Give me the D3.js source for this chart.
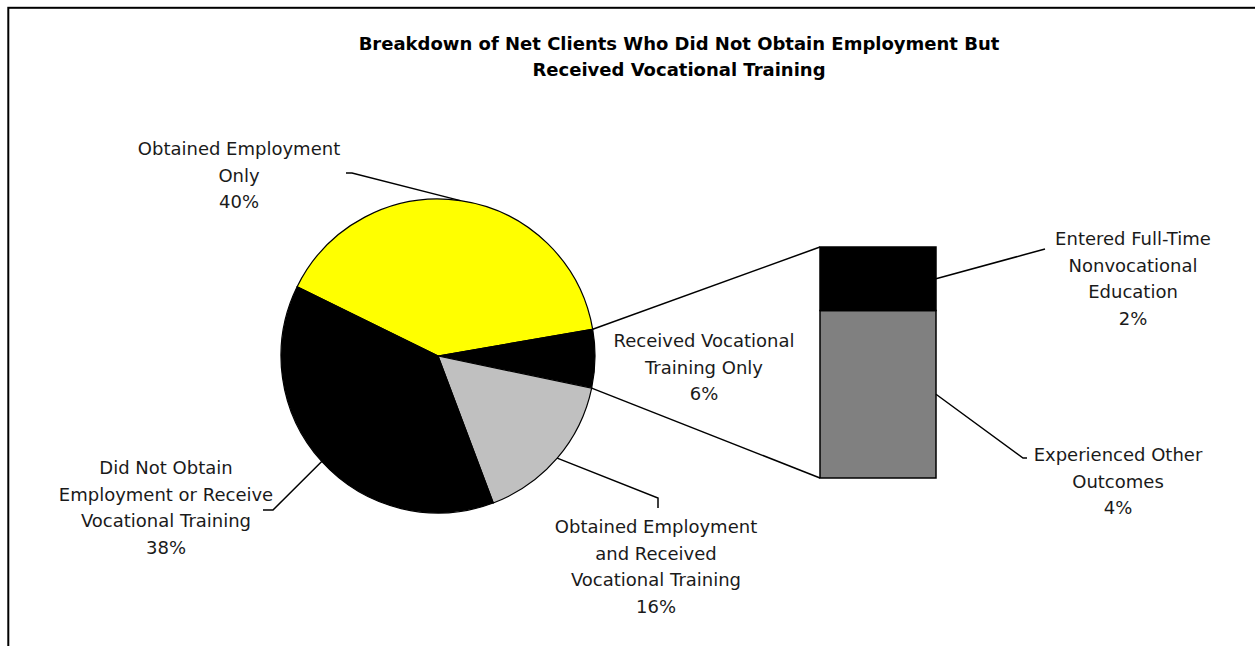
<!DOCTYPE html>
<html><head><meta charset="utf-8">
<script src="https://cdn.jsdelivr.net/npm/d3@7"></script>
<style>body{margin:0;background:#fff}svg{display:block}</style>
</head><body>
<svg id="c" width="1255" height="646"></svg>
<script>
// ---- data ----
const titleLines = ["Breakdown of Net Clients Who Did Not Obtain Employment But", "Received Vocational Training"];
const pieCategories = [
  ["Obtained Employment", "Only"],
  ["Received Vocational", "Training Only"],
  ["Obtained Employment", "and Received", "Vocational Training"],
  ["Did Not Obtain", "Employment or Receive", "Vocational Training"]
];
const pieValues = [40, 6, 16, 38];
const pieColors = ["#FFFF00", "#000000", "#C0C0C0", "#000000"];
const barCategories = [
  ["Experienced Other", "Outcomes"],
  ["Entered Full-Time", "Nonvocational", "Education"]
];
const barValues = [4.35, 1.65];
const barColors = ["#808080", "#000000"];
const splitIndex = 1;

// ---- layout ----
const svg = d3.select("#c");
const FONT = "'DejaVu Sans', sans-serif";
svg.append("rect").attr("x", 8.3).attr("y", 7.8).attr("width", 1400).attr("height", 800)
  .attr("fill", "none").attr("stroke", "#000").attr("stroke-width", 2);

const title = svg.append("text").attr("font-family", FONT).attr("font-weight", "bold")
  .attr("font-size", 18).attr("text-anchor", "middle").attr("fill", "#000");
titleLines.forEach((t, i) => title.append("tspan").attr("x", 679).attr("y", 50 + i * 26).text(t));

const cx = 438, cy = 356, R = 157;
const total = d3.sum(pieValues);
const deg = Math.PI / 180;
// rotate so the split slice is centered at ~91deg (right side)
const before = d3.sum(pieValues.slice(0, splitIndex)) + pieValues[splitIndex] / 2;
const start = 91 * deg - before / total * 2 * Math.PI;
const pie = d3.pie().sort(null).startAngle(start).endAngle(start + 2 * Math.PI);
const arcs = pie(pieValues);
const arc = d3.arc().innerRadius(0).outerRadius(R);
const g = svg.append("g").attr("transform", `translate(${cx},${cy})`);
g.selectAll("path").data(arcs).join("path")
  .attr("d", arc).attr("fill", (d, i) => pieColors[i])
  .attr("stroke", "#000").attr("stroke-width", 1.2);

function edge(a, r = R) { return [cx + r * Math.sin(a), cy - r * Math.cos(a)]; }
const pct = v => Math.round(v) + "%";

// bar
const bx0 = 820, bx1 = 936;
const y = d3.scaleLinear().domain([0, d3.sum(barValues)]).range([478, 247]);
const stack = d3.cumsum(barValues);
const bars = barValues.map((v, i) => ({ v, y0: stack[i] - v, y1: stack[i] }));
svg.selectAll("rect.bar").data(bars).join("rect").attr("class", "bar")
  .attr("x", bx0).attr("width", bx1 - bx0)
  .attr("y", d => y(d.y1)).attr("height", d => y(d.y0) - y(d.y1))
  .attr("fill", (d, i) => barColors[i]).attr("stroke", "#000").attr("stroke-width", 1.5);

// connectors
const sa = arcs[splitIndex];
const pTop = edge(sa.startAngle), pBot = edge(sa.endAngle);
const line = svg.append("g").attr("stroke", "#000").attr("stroke-width", 1.5).attr("fill", "none");
line.append("path").attr("d", d3.line()([pTop, [bx0, y(d3.sum(barValues))]]));
line.append("path").attr("d", d3.line()([pBot, [bx0, y(0)]]));

// label helper
function label(lines, x, y0, spacing = 26.5) {
  const t = svg.append("text").attr("font-family", FONT).attr("font-size", 18)
    .attr("text-anchor", "middle").attr("fill", "#1a1a1a");
  lines.forEach((s, i) => t.append("tspan").attr("x", x).attr("y", y0 + i * spacing).text(s));
}
const mid = d => (d.startAngle + d.endAngle) / 2;

// pie labels (positions) & leaders
const pieLabelPos = [
  { x: 239, y: 155, leader: [[346, 173], [352, 173]] },
  { x: 704, y: 347, leader: null },
  { x: 656, y: 533, leader: [[658, 508], [658, 498]] },
  { x: 166, y: 474, leader: [[263, 510], [273, 510]] }
];
arcs.forEach((d, i) => {
  const L = pieLabelPos[i];
  label(pieCategories[i].concat(pct(pieValues[i])), L.x, L.y);
  if (L.leader) {
    line.append("path").attr("d", d3.line()(L.leader.concat([edge(mid(d))])));
  }
});

// bar labels
const barLabelPos = [
  { x: 1118, y: 461, leader: [[1027, 458], [1023, 458]] },
  { x: 1133, y: 245, leader: [[1045, 249]] }
];
bars.forEach((d, i) => {
  const L = barLabelPos[i];
  label(barCategories[i].concat(pct(d.v)), L.x, L.y);
  line.append("path").attr("d", d3.line()(L.leader.concat([[bx1, y((d.y0 + d.y1) / 2)]])));
});
</script>
</body></html>
